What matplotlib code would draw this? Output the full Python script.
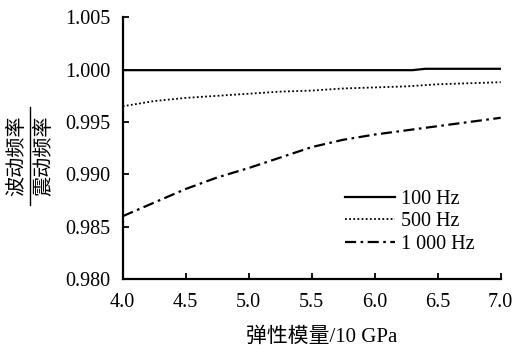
import matplotlib
matplotlib.use("Agg")
import matplotlib.pyplot as plt
from matplotlib.lines import Line2D

plt.rcParams['font.family'] = ['Liberation Serif', 'Noto Sans CJK SC']

# elastic modulus (x 10 GPa)
modulus = [4.0, 4.25, 4.5, 4.75, 5.0, 5.25, 5.5, 5.75, 6.0, 6.25, 6.5, 6.75, 7.0]
ratio_500 = [0.9965, 0.9970, 0.9973, 0.9975, 0.9977, 0.9979, 0.9980,
             0.9982, 0.9983, 0.9984, 0.9986, 0.9987, 0.9988]
ratio_1000 = [0.9860, 0.9873, 0.9886, 0.9897, 0.9906, 0.9916, 0.9926,
              0.9933, 0.9938, 0.9942, 0.9946, 0.9950, 0.9954]
modulus_100 = [4.0, 6.3, 6.4, 7.0]
ratio_100 = [0.99995, 0.99995, 1.00008, 1.00008]

labels = ['100 Hz', '500 Hz', '1 000 Hz']
xticks = [4.0, 4.5, 5.0, 5.5, 6.0, 6.5, 7.0]
yticks = [0.980, 0.985, 0.990, 0.995, 1.000, 1.005]

W, H = 513, 353
fig = plt.figure(figsize=(W / 100, H / 100), dpi=100)
ax = fig.add_axes([122.7 / W, 1 - 279 / H, 378 / W, 261.7 / H])

ax.plot(modulus_100, ratio_100, color='black', lw=1.6, ls='-', label=labels[0])
ax.plot(modulus, ratio_500, color='black', lw=1.3, ls=(0, (1, 1.3)), label=labels[1])
ax.plot(modulus, ratio_1000, color='black', lw=1.6, ls=(0, (5, 2, 1.2, 2)), label=labels[2])

ax.set_xlim(4.0, 7.0)
ax.set_ylim(0.980, 1.005)
ax.set_xticks(xticks)
ax.set_xticklabels([f'{v:.1f}' for v in xticks])
ax.set_yticks(yticks)
ax.set_yticklabels([f'{v:.3f}' for v in yticks])

for s in ['top', 'right']:
    ax.spines[s].set_visible(False)
for s in ['left', 'bottom']:
    ax.spines[s].set_linewidth(1.6)
ax.tick_params(direction='in', length=4, width=1.3, labelsize=14.5)
ax.tick_params(axis='x', pad=10)
ax.tick_params(axis='y', pad=9)

ax.legend(loc='center left', bbox_to_anchor=(0.587, 0.218), frameon=False,
          fontsize=14.5, handlelength=2.5, handletextpad=0.3,
          labelspacing=0.15, borderpad=0, borderaxespad=0)

# x label
fig.text(322 / W, 1 - 337 / H, '弹性模量/10 GPa', ha='center', va='center',
         fontsize=15)

# y label as a fraction
cy = 1 - 156 / H
fig.text(16.5 / W, cy, '波动频率', rotation=90, ha='center', va='center',
         fontsize=14.5, family='Noto Sans CJK SC')
fig.text(43.5 / W, cy, '震动频率', rotation=90, ha='center', va='center',
         fontsize=14.5, family='Noto Sans CJK SC')
fig.add_artist(Line2D([30 / W, 30 / W], [1 - 107 / H, 1 - 205 / H],
                      color='black', lw=1.0))

fig.savefig('out.png', dpi=100)
